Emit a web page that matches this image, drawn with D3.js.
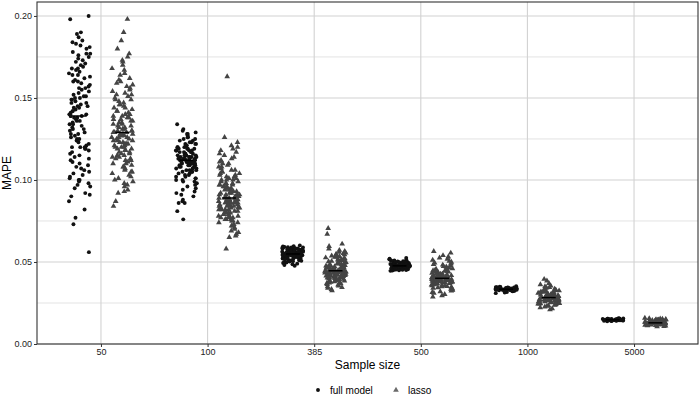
<!DOCTYPE html>
<html>
<head>
<meta charset="utf-8">
<script src="https://cdn.jsdelivr.net/npm/d3@7"></script>
<style>
body { margin: 0; background: #fff; }
text { font-family: "Liberation Sans", Arial, Helvetica, sans-serif; }
</style>
</head>
<body>
<div id="chart"></div>
<script>
// Data --------------------------------- ---------- ----------
let sizes = ["50", "100", "385", "500", "1000", "5000"];
let models = ["full model", "lasso"];
let yTicks = [0, 0.05, 0.10, 0.15, 0.20];
let yMinor = [0.025, 0.075, 0.125, 0.175];

let full50 = [0.200,0.198,0.190,0.189,0.187,0.185,0.184,0.183,0.182,0.181,0.180,0.178,0.177,0.177,0.176,0.175,0.174,0.173,0.172,0.171,0.170,0.169,0.168,0.168,0.167,0.166,0.165,0.164,0.164,0.163,0.162,0.161,0.160,0.160,0.159,0.158,0.157,0.156,0.156,0.155,0.154,0.153,0.152,0.151,0.151,0.150,0.150,0.149,0.149,0.148,0.147,0.147,0.146,0.145,0.145,0.144,0.144,0.143,0.142,0.142,0.141,0.140,0.140,0.139,0.139,0.139,0.138,0.138,0.137,0.136,0.136,0.135,0.134,0.134,0.133,0.132,0.131,0.131,0.130,0.129,0.128,0.128,0.127,0.126,0.125,0.125,0.124,0.123,0.122,0.121,0.120,0.120,0.120,0.119,0.119,0.118,0.117,0.116,0.115,0.114,0.113,0.112,0.111,0.110,0.109,0.108,0.107,0.106,0.105,0.104,0.103,0.102,0.101,0.100,0.100,0.099,0.098,0.097,0.096,0.095,0.092,0.091,0.090,0.087,0.082,0.077,0.073,0.056];
let lasso50 = [0.198,0.190,0.185,0.180,0.177,0.175,0.173,0.172,0.170,0.168,0.167,0.165,0.164,0.162,0.161,0.160,0.159,0.158,0.157,0.156,0.155,0.154,0.153,0.152,0.152,0.151,0.150,0.149,0.149,0.148,0.147,0.146,0.146,0.145,0.144,0.144,0.143,0.142,0.142,0.141,0.140,0.140,0.139,0.139,0.138,0.138,0.137,0.137,0.136,0.136,0.135,0.135,0.134,0.134,0.133,0.133,0.132,0.132,0.131,0.131,0.130,0.130,0.130,0.129,0.129,0.129,0.128,0.128,0.128,0.127,0.127,0.127,0.126,0.126,0.126,0.125,0.125,0.124,0.124,0.124,0.123,0.123,0.122,0.122,0.122,0.121,0.121,0.120,0.120,0.120,0.119,0.119,0.118,0.118,0.117,0.117,0.116,0.116,0.115,0.115,0.114,0.114,0.113,0.113,0.112,0.112,0.111,0.110,0.110,0.109,0.108,0.108,0.107,0.106,0.105,0.105,0.104,0.103,0.102,0.101,0.100,0.099,0.098,0.097,0.096,0.094,0.093,0.092,0.087,0.084];
let full100 = [0.134,0.131,0.130,0.129,0.128,0.128,0.127,0.126,0.126,0.125,0.125,0.124,0.124,0.123,0.123,0.122,0.122,0.122,0.121,0.121,0.121,0.120,0.120,0.120,0.119,0.119,0.119,0.119,0.118,0.118,0.118,0.118,0.117,0.117,0.117,0.117,0.116,0.116,0.116,0.116,0.115,0.115,0.115,0.115,0.115,0.114,0.114,0.114,0.114,0.114,0.113,0.113,0.113,0.113,0.113,0.113,0.112,0.112,0.112,0.112,0.112,0.112,0.112,0.111,0.111,0.111,0.111,0.111,0.111,0.110,0.110,0.110,0.110,0.110,0.109,0.109,0.109,0.109,0.108,0.108,0.108,0.108,0.107,0.107,0.107,0.106,0.106,0.106,0.105,0.105,0.105,0.104,0.104,0.103,0.103,0.102,0.102,0.101,0.101,0.100,0.100,0.099,0.099,0.098,0.097,0.096,0.095,0.094,0.093,0.092,0.091,0.090,0.088,0.087,0.086,0.086,0.081,0.076];
let lasso100 = [0.163,0.126,0.123,0.121,0.120,0.119,0.118,0.117,0.116,0.115,0.114,0.113,0.112,0.111,0.110,0.110,0.109,0.108,0.108,0.107,0.106,0.106,0.105,0.105,0.104,0.104,0.103,0.103,0.102,0.102,0.101,0.101,0.100,0.100,0.100,0.099,0.099,0.098,0.098,0.098,0.097,0.097,0.097,0.096,0.096,0.096,0.095,0.095,0.095,0.094,0.094,0.094,0.093,0.093,0.093,0.092,0.092,0.092,0.091,0.091,0.091,0.091,0.090,0.090,0.090,0.090,0.090,0.089,0.089,0.089,0.089,0.089,0.088,0.088,0.088,0.088,0.087,0.087,0.087,0.087,0.087,0.086,0.086,0.086,0.086,0.086,0.085,0.085,0.085,0.085,0.084,0.084,0.084,0.084,0.083,0.083,0.083,0.083,0.082,0.082,0.082,0.082,0.081,0.081,0.081,0.080,0.080,0.080,0.079,0.079,0.079,0.078,0.078,0.078,0.077,0.077,0.077,0.076,0.076,0.076,0.075,0.075,0.074,0.074,0.073,0.072,0.072,0.071,0.070,0.069,0.068,0.067,0.066,0.065,0.058];
let full385 = [0.0601,0.0596,0.0594,0.0591,0.0590,0.0588,0.0588,0.0586,0.0585,0.0583,0.0583,0.0582,0.0580,0.0580,0.0579,0.0577,0.0577,0.0576,0.0575,0.0573,0.0573,0.0572,0.0571,0.0570,0.0569,0.0569,0.0568,0.0566,0.0566,0.0565,0.0564,0.0563,0.0562,0.0562,0.0561,0.0560,0.0559,0.0558,0.0558,0.0557,0.0556,0.0555,0.0554,0.0554,0.0553,0.0552,0.0551,0.0550,0.0549,0.0549,0.0548,0.0547,0.0546,0.0545,0.0544,0.0544,0.0543,0.0542,0.0541,0.0540,0.0540,0.0539,0.0538,0.0537,0.0536,0.0535,0.0535,0.0534,0.0533,0.0532,0.0531,0.0530,0.0529,0.0528,0.0527,0.0527,0.0526,0.0525,0.0523,0.0522,0.0521,0.0520,0.0518,0.0517,0.0516,0.0514,0.0513,0.0511,0.0509,0.0507,0.0505,0.0503,0.0500,0.0497,0.0494,0.0490,0.0486,0.0481,0.0477];
let lasso385 = [0.0705,0.0670,0.0610,0.0595,0.0580,0.0572,0.0565,0.0560,0.0556,0.0552,0.0548,0.0545,0.0542,0.0538,0.0535,0.0532,0.0529,0.0526,0.0523,0.0520,0.0518,0.0515,0.0512,0.0510,0.0508,0.0505,0.0503,0.0500,0.0498,0.0496,0.0494,0.0492,0.0490,0.0488,0.0486,0.0484,0.0482,0.0480,0.0478,0.0476,0.0474,0.0472,0.0470,0.0468,0.0467,0.0465,0.0463,0.0462,0.0460,0.0459,0.0457,0.0456,0.0454,0.0453,0.0451,0.0450,0.0449,0.0448,0.0447,0.0446,0.0445,0.0444,0.0444,0.0443,0.0442,0.0441,0.0440,0.0439,0.0438,0.0437,0.0436,0.0434,0.0433,0.0432,0.0431,0.0430,0.0428,0.0427,0.0426,0.0425,0.0423,0.0421,0.0420,0.0419,0.0418,0.0416,0.0414,0.0412,0.0411,0.0410,0.0408,0.0406,0.0404,0.0403,0.0402,0.0400,0.0398,0.0396,0.0395,0.0393,0.0390,0.0387,0.0385,0.0384,0.0381,0.0378,0.0375,0.0372,0.0370,0.0368,0.0364,0.0360,0.0355,0.0350,0.0345,0.0340,0.0333,0.0325];
let full500 = [0.0525,0.0520,0.0516,0.0513,0.0511,0.0509,0.0507,0.0505,0.0504,0.0502,0.0501,0.0500,0.0499,0.0498,0.0497,0.0496,0.0495,0.0494,0.0493,0.0492,0.0491,0.0490,0.0489,0.0489,0.0488,0.0487,0.0486,0.0486,0.0485,0.0484,0.0483,0.0483,0.0482,0.0481,0.0480,0.0480,0.0479,0.0478,0.0477,0.0477,0.0476,0.0475,0.0475,0.0474,0.0473,0.0473,0.0472,0.0472,0.0471,0.0471,0.0470,0.0470,0.0469,0.0469,0.0468,0.0467,0.0467,0.0466,0.0466,0.0465,0.0464,0.0464,0.0463,0.0462,0.0462,0.0461,0.0460,0.0459,0.0459,0.0458,0.0457,0.0456,0.0455,0.0454,0.0453,0.0452,0.0451,0.0450,0.0448,0.0446];
let lasso500 = [0.0565,0.0555,0.0540,0.0532,0.0525,0.0518,0.0512,0.0506,0.0500,0.0495,0.0490,0.0486,0.0482,0.0478,0.0474,0.0470,0.0466,0.0463,0.0460,0.0457,0.0454,0.0451,0.0448,0.0445,0.0443,0.0440,0.0438,0.0436,0.0434,0.0432,0.0430,0.0428,0.0426,0.0424,0.0422,0.0420,0.0418,0.0417,0.0415,0.0414,0.0412,0.0411,0.0409,0.0408,0.0406,0.0405,0.0404,0.0402,0.0401,0.0400,0.0399,0.0398,0.0397,0.0396,0.0395,0.0394,0.0393,0.0392,0.0391,0.0390,0.0388,0.0387,0.0386,0.0384,0.0383,0.0382,0.0380,0.0379,0.0377,0.0376,0.0374,0.0373,0.0371,0.0369,0.0368,0.0366,0.0364,0.0362,0.0360,0.0358,0.0356,0.0354,0.0352,0.0350,0.0347,0.0344,0.0341,0.0338,0.0335,0.0332,0.0328,0.0324,0.0320,0.0315,0.0310,0.0303,0.0295,0.0288];
let full1000 = [0.0352,0.0350,0.0348,0.0347,0.0346,0.0345,0.0344,0.0343,0.0343,0.0342,0.0341,0.0341,0.0340,0.0340,0.0339,0.0339,0.0338,0.0338,0.0337,0.0337,0.0337,0.0336,0.0336,0.0336,0.0335,0.0335,0.0335,0.0334,0.0334,0.0334,0.0333,0.0333,0.0333,0.0333,0.0332,0.0332,0.0332,0.0331,0.0331,0.0331,0.0330,0.0330,0.0329,0.0329,0.0328,0.0328,0.0327,0.0327,0.0326,0.0325,0.0324,0.0323,0.0322,0.0321,0.0319,0.0317,0.0314,0.0310];
let lasso1000 = [0.0395,0.0385,0.0370,0.0362,0.0355,0.0350,0.0346,0.0342,0.0338,0.0335,0.0332,0.0330,0.0327,0.0325,0.0323,0.0321,0.0319,0.0317,0.0315,0.0313,0.0311,0.0309,0.0307,0.0305,0.0304,0.0302,0.0300,0.0299,0.0297,0.0296,0.0294,0.0293,0.0291,0.0290,0.0289,0.0288,0.0287,0.0286,0.0285,0.0284,0.0283,0.0282,0.0281,0.0280,0.0279,0.0278,0.0277,0.0276,0.0275,0.0273,0.0272,0.0271,0.0270,0.0269,0.0268,0.0266,0.0265,0.0264,0.0263,0.0262,0.0260,0.0259,0.0258,0.0256,0.0254,0.0253,0.0252,0.0250,0.0248,0.0246,0.0245,0.0244,0.0242,0.0240,0.0237,0.0234,0.0231,0.0227,0.0222,0.0216,0.0210];
let full5000 = [0.0157,0.0156,0.0155,0.0154,0.0154,0.0153,0.0153,0.0152,0.0152,0.0151,0.0151,0.0151,0.0150,0.0150,0.0150,0.0149,0.0149,0.0149,0.0148,0.0148,0.0148,0.0148,0.0147,0.0147,0.0147,0.0147,0.0146,0.0146,0.0146,0.0146,0.0145,0.0145,0.0145,0.0144,0.0144,0.0144,0.0143,0.0143,0.0142,0.0142,0.0141,0.0140,0.0139];
let lasso5000 = [0.0158,0.0156,0.0154,0.0152,0.0150,0.0149,0.0148,0.0147,0.0146,0.0145,0.0144,0.0143,0.0142,0.0141,0.0140,0.0139,0.0138,0.0137,0.0136,0.0136,0.0135,0.0134,0.0134,0.0133,0.0132,0.0132,0.0131,0.0131,0.0130,0.0130,0.0129,0.0129,0.0128,0.0128,0.0128,0.0127,0.0127,0.0126,0.0126,0.0125,0.0125,0.0124,0.0124,0.0123,0.0123,0.0122,0.0121,0.0121,0.0120,0.0119,0.0119,0.0118,0.0117,0.0116,0.0115,0.0114,0.0113,0.0112,0.0110,0.0108,0.0106];

let fullSeries  = [full50, full100, full385, full500, full1000, full5000];
let lassoSeries = [lasso50, lasso100, lasso385, lasso500, lasso1000, lasso5000];

// Build one table of groups
let groups = [];
sizes.forEach((s, i) => {
    groups.push({size: s, model: models[0], values: fullSeries[i]});
    groups.push({size: s, model: models[1], values: lassoSeries[i]});
});

// Canvas ---------- ---------- ----------
let canvasW = 700, canvasH = 403;
let pL = 37, pR = 698, pT = 2, pB = 344;
let colors = {"full model": "#111111", "lasso": "#444444"};

let svg = d3.select("#chart").append("svg").attr("width", canvasW).attr("height", canvasH);

let x = d3.scalePoint().domain(sizes).range([pL, pR]).padding(0.6);
let step = x.step();
let dodge = d3.scaleBand().domain(models).range([-0.4 * step, 0.4 * step]);
let y = d3.scaleLinear().domain([0, 0.2085]).range([pB, pT]);

// deterministic jitter (hash of index), positions only
function jit(i, g) {
    let s = Math.sin((i + 1) * 12.9898 + g * 78.233) * 43758.5453;
    return s - Math.floor(s) - 0.5;
}

// Grid ---------- ---------- ----------
let grid = svg.append("g");
grid.selectAll(".minor").data(yMinor).enter().append("line")
    .attr("x1", pL).attr("x2", pR).attr("y1", d => y(d)).attr("y2", d => y(d))
    .attr("stroke", "#dcdcdc").attr("stroke-width", 0.8);
grid.selectAll(".major").data(yTicks).enter().append("line")
    .attr("x1", pL).attr("x2", pR).attr("y1", d => y(d)).attr("y2", d => y(d))
    .attr("stroke", "#d2d2d2").attr("stroke-width", 1.1);
grid.selectAll(".vmajor").data(sizes).enter().append("line")
    .attr("x1", d => x(d)).attr("x2", d => x(d)).attr("y1", pT).attr("y2", pB)
    .attr("stroke", "#d2d2d2").attr("stroke-width", 1.1);

// Points ---------- ---------- ----------
let circle = d3.symbol().type(d3.symbolCircle).size(12);
let tri = d3.symbol().type(d3.symbolTriangle).size(14);

groups.forEach((g, gi) => {
    let cx = x(g.size) + dodge(g.model) + dodge.bandwidth() / 2;
    svg.append("g").selectAll("path").data(g.values).enter().append("path")
        .attr("d", g.model === "lasso" ? tri : circle)
        .attr("transform", (d, i) => "translate(" + (cx + jit(i, gi) * 0.2 * step) + "," + y(d) + ")")
        .attr("fill", colors[g.model]);
    // median line
    let med = d3.median(g.values);
    svg.append("line")
        .attr("x1", cx - 7).attr("x2", cx + 7).attr("y1", y(med)).attr("y2", y(med))
        .attr("stroke", "#000").attr("stroke-width", 1.5);
});

// Border ---------- ---------- ----------
svg.append("rect").attr("x", pL).attr("y", pT).attr("width", pR - pL).attr("height", pB - pT)
    .attr("fill", "none").attr("stroke", "#333").attr("stroke-width", 1.1);

// Axes ---------- ---------- ----------
let yAxis = svg.append("g").attr("transform", "translate(" + pL + ",0)")
    .call(d3.axisLeft(y).tickValues(yTicks).tickFormat(d3.format(".2f")).tickSize(3).tickPadding(2));
let xAxis = svg.append("g").attr("transform", "translate(0," + pB + ")")
    .call(d3.axisBottom(x).tickSize(3).tickPadding(2));
[yAxis, xAxis].forEach(a => {
    a.select(".domain").remove();
    a.selectAll(".tick line").attr("stroke", "#333");
    a.selectAll(".tick text").attr("fill", "#222").style("font-size", "9px")
        .style("font-family", '"Liberation Sans", Arial, sans-serif');
});

svg.append("text").attr("x", (pL + pR) / 2).attr("y", 369).attr("text-anchor", "middle")
    .style("font-size", "12px").attr("fill", "#000").text("Sample size");
svg.append("text").attr("transform", "translate(11," + (pT + pB) / 2 + ") rotate(-90)")
    .attr("text-anchor", "middle").style("font-size", "12px").attr("fill", "#000").text("MAPE");

// Legend ---------- ---------- ----------
let legend = svg.append("g").attr("transform", "translate(318,390)");
legend.append("path").attr("d", circle).attr("fill", colors["full model"]);
legend.append("text").attr("x", 12).attr("y", 3.5).style("font-size", "10px").text("full model");
legend.append("path").attr("d", tri).attr("transform", "translate(78,0)").attr("fill", "#6a6a6a");
legend.append("text").attr("x", 90).attr("y", 3.5).style("font-size", "10px").text("lasso");
</script>
</body>
</html>
